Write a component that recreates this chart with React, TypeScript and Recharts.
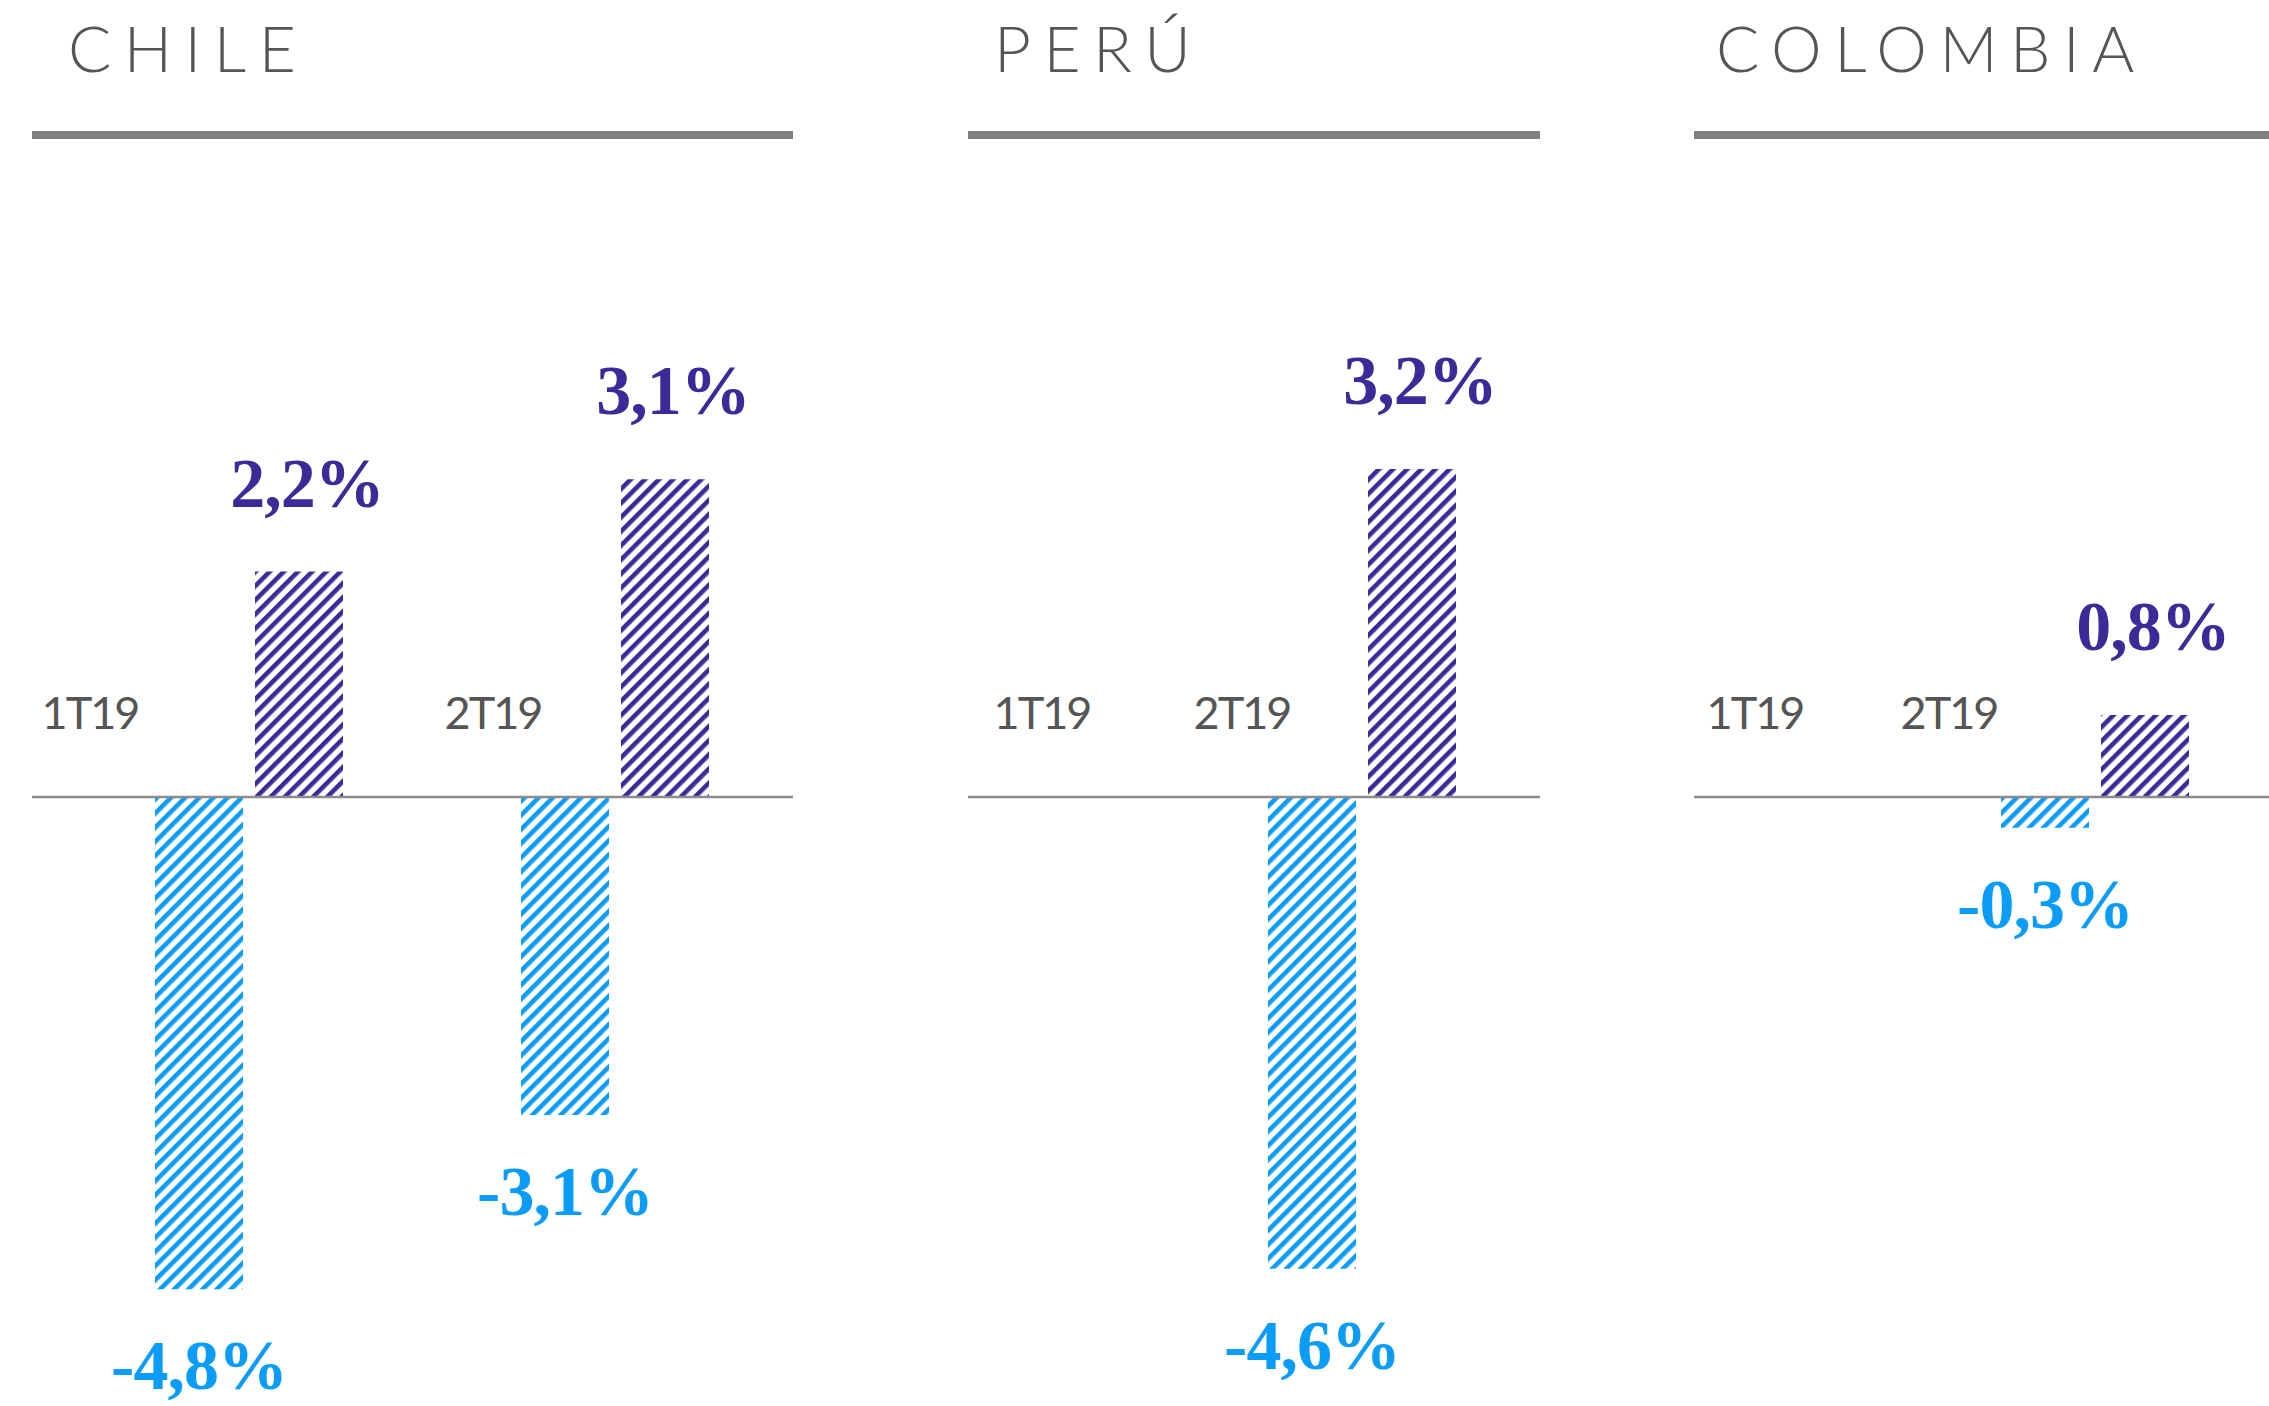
import { BarChart, Bar, XAxis, YAxis, ReferenceLine, LabelList } from "recharts"

// quarters shown under every country
const quarters = ["1T19", "2T19"]

// blue = first series (negative side), purple = second series
const chileBlue = [-4.8, -3.1]
const chilePurple = [2.2, 3.1]
const peruBlue = [null, -4.6]
const peruPurple = [null, 3.2]
const colombiaBlue = [null, -0.3]
const colombiaPurple = [null, 0.8]

const countries = ["CHILE", "PERÚ", "COLOMBIA"]

const BLUE = "#0a9cf7"
const PURPLE = "#3b2a98"
const GREY_TEXT = "#555555"
const RULE = "#808080"

const PAGE_W = 2269
const PAGE_H = 1406
const PLOT_TOP = 387
const AXIS_H = 1
const PLOT_BOTTOM = 45
const TICK_BASELINE = 729
const TICK_LIFT = PAGE_H - PLOT_BOTTOM - TICK_BASELINE

type Row = { q: string; blue: number | null; purple: number | null }

const rowsOf = (blue: (number | null)[], purple: (number | null)[]): Row[] =>
  quarters.map((q, i) => ({ q, blue: blue[i], purple: purple[i] }))

// layout of each panel (styling only); shifts move the quarter text left of its bars
const panels = [
  { id: "cl", left: 32, width: 761, titleX: 68, pad: { left: 34, right: -5 }, shifts: [-159, -122], rows: rowsOf(chileBlue, chilePurple) },
  { id: "pe", left: 968, width: 572, titleX: 994, pad: { left: 94, right: 78 }, shifts: [-120, -120], rows: rowsOf(peruBlue, peruPurple) },
  { id: "co", left: 1694, width: 575, titleX: 1716, pad: { left: 110, right: 77 }, shifts: [-146, -146], rows: rowsOf(colombiaBlue, colombiaPurple) },
]

const fmt = (v: number) => `${v.toFixed(1).replace(".", ",")}%`

function ValueLabel(props: any) {
  const { x, y, width, height, value, color } = props
  if (value === null || value === undefined) return null
  const top = Math.min(y, y + height)
  const bottom = Math.max(y, y + height)
  const cx = x + width / 2
  const pos = value >= 0
  return (
    <text
      x={cx + (pos ? 8 : 0)}
      y={pos ? top - 65 : bottom + 100}
      textAnchor="middle"
      fill={color}
      fontFamily="'Liberation Serif', serif"
      fontWeight={700}
      fontSize={70}
      letterSpacing={-1}
    >
      {fmt(value)}
    </text>
  )
}

function QuarterTick(props: any) {
  const { x, y, payload, index, shifts } = props
  return (
    <text
      x={x + shifts[index]}
      y={y - TICK_LIFT}
      textAnchor="middle"
      fill={GREY_TEXT}
      fontFamily="Lato, sans-serif"
      fontWeight={400}
      fontSize={45}
      letterSpacing={-2}
    >
      {payload.value}
    </text>
  )
}

function Panel({ p }: { p: (typeof panels)[number] }) {
  return (
    <div style={{ position: "absolute", left: p.left, top: 0 }}>
      <BarChart
        width={p.width}
        height={PAGE_H}
        data={p.rows}
        margin={{ top: PLOT_TOP, right: 0, bottom: PLOT_BOTTOM - AXIS_H, left: 0 }}
        barGap={12}
      >
        <defs>
          <pattern id={`hb-${p.id}`} patternUnits="userSpaceOnUse" width={10} height={10} patternTransform="rotate(45)">
            <rect x={0} y={0} width={4.6} height={10} fill={BLUE} />
          </pattern>
          <pattern id={`hp-${p.id}`} patternUnits="userSpaceOnUse" width={10} height={10} patternTransform="rotate(45)">
            <rect x={0} y={0} width={4.6} height={10} fill={PURPLE} />
          </pattern>
        </defs>
        <XAxis
          dataKey="q"
          height={AXIS_H}
          axisLine={false}
          tickLine={false}
          tickSize={0}
          tickMargin={0}
          interval={0}
          padding={p.pad}
          tick={(t: any) => <QuarterTick {...t} shifts={p.shifts} />}
        />
        <YAxis hide domain={[-5.5, 4]} />
        <Bar dataKey="blue" fill={`url(#hb-${p.id})`} barSize={88} isAnimationActive={false}>
          <LabelList dataKey="blue" content={(l: any) => <ValueLabel {...l} color={BLUE} />} />
        </Bar>
        <Bar dataKey="purple" fill={`url(#hp-${p.id})`} barSize={88} isAnimationActive={false}>
          <LabelList dataKey="purple" content={(l: any) => <ValueLabel {...l} color={PURPLE} />} />
        </Bar>
        <ReferenceLine y={0} stroke="#8c8c8c" strokeWidth={2.5} />
      </BarChart>
    </div>
  )
}

export default function App() {
  return (
    <div style={{ position: "absolute", left: 0, top: 0, width: PAGE_W, height: PAGE_H, background: "#fff", overflow: "hidden" }}>
      <svg width={PAGE_W} height={PAGE_H} style={{ position: "absolute", left: 0, top: 0 }}>
        {panels.map((p, i) => (
          <g key={p.id}>
            <text
              x={p.titleX}
              y={72}
              fill={GREY_TEXT}
              fontFamily="Lato, sans-serif"
              fontWeight={300}
              fontSize={64}
              letterSpacing={12.5}
            >
              {countries[i]}
            </text>
            <rect x={p.left} y={131} width={p.width} height={8} fill={RULE} />
          </g>
        ))}
      </svg>
      {panels.map((p) => (
        <Panel key={p.id} p={p} />
      ))}
    </div>
  )
}
